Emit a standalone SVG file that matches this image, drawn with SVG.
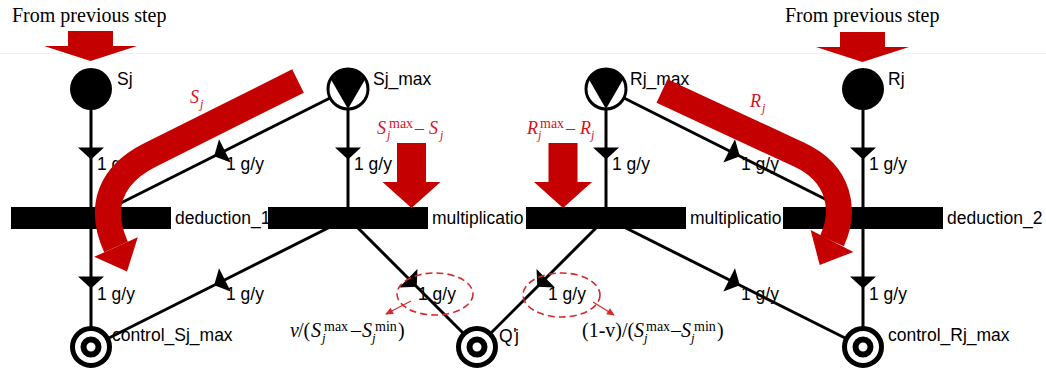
<svg xmlns="http://www.w3.org/2000/svg" xmlns:xlink="http://www.w3.org/1999/xlink" width="1046" height="374" viewBox="0 0 1046 374">
<style>
.lbl{font-family:"Liberation Sans",Arial,sans-serif;font-size:17.5px;fill:#000}
.ser{font-family:"Liberation Serif","Times New Roman",serif;fill:#000}
.it{font-style:italic}
.rtxt{font-family:"Liberation Serif","Times New Roman",serif;font-size:18px;fill:#d8121c}
.arc{stroke:#000;stroke-width:3;fill:none;marker-mid:url(#arr)}
.bar{fill:#000}
.rband{stroke:#c40000;stroke-width:26;fill:none}
.rfill{fill:#c40000}
.dash{fill:none;stroke:#d42a2a;stroke-width:1.6;stroke-dasharray:7 4}
.thin{stroke:#d42a2a;stroke-width:1.2;fill:none;marker-end:url(#sarr)}
</style>
<defs>
<marker id="arr" markerUnits="userSpaceOnUse" viewBox="-15 -15 30 30" markerWidth="30" markerHeight="30" refX="0" refY="0" orient="auto">
<path d="M-6,-13 L6,0 L-6,13 Z" fill="#000"/>
</marker>
<marker id="sarr" markerUnits="userSpaceOnUse" viewBox="-8 -4 10 8" markerWidth="10" markerHeight="8" refX="0" refY="0" orient="auto">
<path d="M-7,-3.5 L1,0 L-7,3.5 Z" fill="#d42a2a"/>
</marker>
<path id="bigdown" d="M-22.5,0 h45 v15 h24 l-46.5,15 l-46.5,-15 h24 z"/>
<path id="middown" d="M-14.5,0 h29 v39 h14.5 l-29,26 l-29,-26 h14.5 z"/>
</defs>
<rect width="1046" height="374" fill="#fff"/>
<line x1="0" y1="53.5" x2="1046" y2="53.5" stroke="#efefef" stroke-width="1"/>

<g id="arc-labels" class="lbl">
<text x="97" y="170">1 g/y</text>
<text x="354" y="170">1 g/y</text>
<text x="226" y="170">1 g/y</text>
<text x="612" y="170">1 g/y</text>
<text x="741" y="170">1 g/y</text>
<text x="869" y="170">1 g/y</text>
<text x="97" y="300">1 g/y</text>
<text x="226" y="300">1 g/y</text>
<text x="418" y="300">1 g/y</text>
<text x="548" y="300">1 g/y</text>
<text x="741" y="300">1 g/y</text>
<text x="869" y="300">1 g/y</text>
</g>

<g id="connectors">
<polyline class="arc" points="91,89 91,153.5 91,218"/>
<polyline class="arc" points="91,218 91,282.5 91,347"/>
<polyline class="arc" points="348,89 219.5,153.5 91,218"/>
<polyline class="arc" points="348,89 348,153.5 348,218"/>
<polyline class="arc" points="348,218 219.5,282.5 91,347"/>
<polyline class="arc" points="348,218 412.5,282.5 477,347"/>
<polyline class="arc" points="606,89 606,153.5 606,218"/>
<polyline class="arc" points="606,89 734.5,153.5 863,218"/>
<polyline class="arc" points="606,218 541.5,282.5 477,347"/>
<polyline class="arc" points="606,218 734.5,282.5 863,347"/>
<polyline class="arc" points="863,89 863,153.5 863,218"/>
<polyline class="arc" points="863,218 863,282.5 863,347"/>
</g>

<g id="node-Sj">
<circle cx="91" cy="89" r="21" fill="#000"/>
<text class="lbl" x="117" y="85">Sj</text>
</g>
<g id="node-Sj_max">
<circle cx="348" cy="89" r="20" fill="#fff" stroke="#000" stroke-width="3"/>
<path d="M330.7,79 A20,20 0 0 1 365.3,79 Z" fill="#000"/>
<polygon points="330.7,79 365.3,79 348,109" fill="#000"/>
<text class="lbl" x="373" y="85">Sj_max</text>
</g>
<g id="node-Rj_max">
<circle cx="606" cy="89" r="20" fill="#fff" stroke="#000" stroke-width="3"/>
<path d="M588.7,79 A20,20 0 0 1 623.3,79 Z" fill="#000"/>
<polygon points="588.7,79 623.3,79 606,109" fill="#000"/>
<text class="lbl" x="630" y="85">Rj_max</text>
</g>
<g id="node-Rj">
<circle cx="863" cy="89" r="21" fill="#000"/>
<text class="lbl" x="888" y="85">Rj</text>
</g>

<g id="node-deduction_1">
<rect class="bar" x="11" y="207" width="160" height="22"/>
<text class="lbl" x="175" y="224">deduction_1</text>
</g>
<g id="node-multiplication_1">
<rect class="bar" x="268" y="207" width="160" height="22"/>
<text class="lbl" x="432" y="224">multiplicatio</text>
</g>
<g id="node-multiplication_2">
<rect class="bar" x="526" y="207" width="160" height="22"/>
<text class="lbl" x="690" y="224">multiplicatio</text>
</g>
<g id="node-deduction_2">
<rect class="bar" x="783" y="207" width="160" height="22"/>
<text class="lbl" x="947" y="224">deduction_2</text>
</g>

<g id="node-control_Sj_max">
<circle cx="91" cy="347" r="18.5" fill="#fff" stroke="#000" stroke-width="5"/>
<circle cx="91" cy="347" r="7.5" fill="#fff" stroke="#000" stroke-width="6"/>
<text class="lbl" x="112" y="341">control_Sj_max</text>
</g>
<g id="node-Qj">
<circle cx="477" cy="347" r="18.5" fill="#fff" stroke="#000" stroke-width="5"/>
<circle cx="477" cy="347" r="7.5" fill="#fff" stroke="#000" stroke-width="6"/>
<text class="lbl" x="499" y="342">Q<tspan dx="0.5" dy="-1">'</tspan><tspan dx="-1.5" dy="1">j</tspan></text>
</g>
<g id="node-control_Rj_max">
<circle cx="863" cy="347" r="18.5" fill="#fff" stroke="#000" stroke-width="5"/>
<circle cx="863" cy="347" r="7.5" fill="#fff" stroke="#000" stroke-width="6"/>
<text class="lbl" x="888" y="341">control_Rj_max</text>
</g>

<g id="annotations">
<text class="ser" x="12" y="22" font-size="20">From previous step</text>
<text class="ser" x="785" y="22" font-size="20">From previous step</text>
<use xlink:href="#bigdown" href="#bigdown" transform="translate(90.5,31)" class="rfill"/>
<use xlink:href="#bigdown" href="#bigdown" transform="translate(862.5,32)" class="rfill"/>

<path class="rband" d="M298,81 L150,155 C110,175 98,207 116,247"/>
<polygon class="rfill" points="94.2,256.8 137.8,237.2 127,271.6"/>
<path class="rband" d="M662,91 L800,155 C840,174 846,210 832,241"/>
<polygon class="rfill" points="810.6,230.1 853.4,251.9 819.7,265"/>

<use xlink:href="#middown" href="#middown" transform="translate(411.5,143)" class="rfill"/>
<use xlink:href="#middown" href="#middown" transform="translate(563,143)" class="rfill"/>

<text class="rtxt" y="103"><tspan x="190" class="it">S</tspan><tspan x="200" y="108" class="it" font-size="12">j</tspan></text>
<text class="rtxt" y="107"><tspan x="750" class="it">R</tspan><tspan x="762" y="112" class="it" font-size="12">j</tspan></text>
<text class="rtxt" y="134"><tspan x="377" class="it">S</tspan><tspan x="387" y="139" class="it" font-size="12">j</tspan><tspan x="389" y="128" font-size="14">max</tspan><tspan x="415" y="134">–</tspan><tspan x="429" class="it">S</tspan><tspan x="440" y="139" class="it" font-size="12">j</tspan></text>
<text class="rtxt" y="134"><tspan x="527" class="it">R</tspan><tspan x="538" y="139" class="it" font-size="12">j</tspan><tspan x="540" y="128" font-size="14">max</tspan><tspan x="566" y="134">–</tspan><tspan x="580" class="it">R</tspan><tspan x="591" y="139" class="it" font-size="12">j</tspan></text>

<ellipse class="dash" cx="435" cy="294" rx="38" ry="21"/>
<ellipse class="dash" cx="561.5" cy="295" rx="38.5" ry="22"/>
<line class="thin" x1="411" y1="301" x2="386" y2="314"/>
<line class="thin" x1="593" y1="302" x2="614" y2="315"/>

<text class="ser" font-size="20" y="337"><tspan x="290" class="it">v</tspan><tspan x="298">/(</tspan><tspan x="311" class="it">S</tspan><tspan x="322" y="342" class="it" font-size="13">j</tspan><tspan x="324" y="331" font-size="14">max</tspan><tspan x="351" y="337">–</tspan><tspan x="362" class="it">S</tspan><tspan x="372" y="342" class="it" font-size="13">j</tspan><tspan x="375" y="331" font-size="14">min</tspan><tspan x="398" y="337">)</tspan></text>
<text class="ser" font-size="20" y="337"><tspan x="582">(1-v)/(</tspan><tspan x="634" class="it">S</tspan><tspan x="644" y="342" class="it" font-size="13">j</tspan><tspan x="646" y="331" font-size="14">max</tspan><tspan x="671" y="337">–</tspan><tspan x="681" class="it">S</tspan><tspan x="691" y="342" class="it" font-size="13">j</tspan><tspan x="694" y="331" font-size="14">min</tspan><tspan x="717" y="337">)</tspan></text>
</g>
</svg>
